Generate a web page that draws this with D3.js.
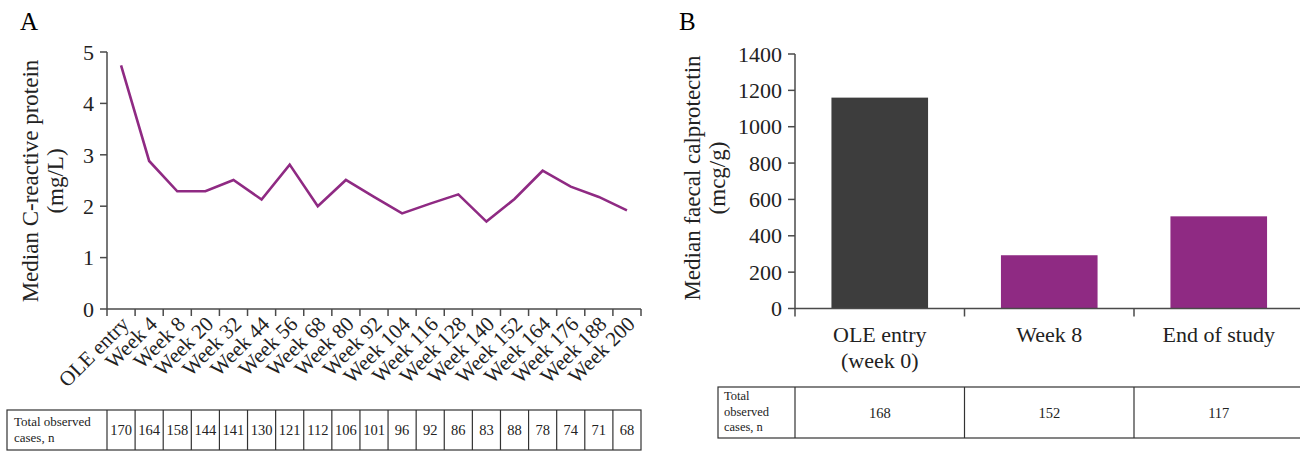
<!DOCTYPE html>
<html>
<head>
<meta charset="utf-8">
<script src="https://cdn.jsdelivr.net/npm/d3@7"></script>
<style>
  body { margin:0; background:#fff; }
  svg text { font-family:"Liberation Serif", "DejaVu Serif", serif; }
</style>
</head>
<body>
<svg width="1300" height="452"></svg>
<script>
// panel A data
var weeks = ["OLE entry","Week 4","Week 8","Week 20","Week 32","Week 44","Week 56","Week 68","Week 80","Week 92",
             "Week 104","Week 116","Week 128","Week 140","Week 152","Week 164","Week 176","Week 188","Week 200"];
var crpMedian = [4.74,2.88,2.29,2.29,2.51,2.13,2.81,2.00,2.51,2.18,1.86,2.05,2.23,1.70,2.14,2.69,2.38,2.18,1.92];
var crpN = [170,164,158,144,141,130,121,112,106,101,96,92,86,83,88,78,74,71,68];
var crpTicks = [0,1,2,3,4,5];

// panel B data
var visits = ["OLE entry|(week 0)","Week 8","End of study"];
var fcMedian = [1160,293,507];
var fcN = [168,152,117];
var fcTicks = [0,200,400,600,800,1000,1200,1400];

var purple = "#8f2a83";
var dark = "#3d3d3d";
var axisCol = "#4a4a4a";
var serif = "Liberation Serif, DejaVu Serif, serif";

var svg = d3.select("svg");

// ---------- panel A ----------
var x = d3.scaleBand().domain(weeks).range([107, 641]).padding(0);
var y = d3.scaleLinear().domain([0,5]).range([309, 52]);

svg.append("text").attr("x",20).attr("y",30).attr("font-family",serif).attr("font-size",25).text("A");

var gA = svg.append("g");
gA.append("line").attr("x1",x.range()[0]).attr("x2",x.range()[1]).attr("y1",y(0)).attr("y2",y(0))
  .attr("stroke",axisCol).attr("stroke-width",1.5);
gA.append("line").attr("x1",107).attr("x2",107).attr("y1",y(0)).attr("y2",y(5))
  .attr("stroke",axisCol).attr("stroke-width",1.5);

gA.selectAll(".yt").data(crpTicks).enter().append("line")
  .attr("x1",100).attr("x2",107).attr("y1",function(d){return y(d);}).attr("y2",function(d){return y(d);})
  .attr("stroke",axisCol).attr("stroke-width",1.5);
gA.selectAll(".yl").data(crpTicks).enter().append("text")
  .attr("x",94).attr("y",function(d){return y(d);}).attr("dy","0.35em")
  .attr("text-anchor","end").attr("font-family",serif).attr("font-size",22).attr("fill","#222")
  .text(function(d){return d;});

var bounds = weeks.map(function(w){return x(w);}).concat([x.range()[1]]);
gA.selectAll(".xt").data(bounds).enter().append("line")
  .attr("x1",function(d){return d;}).attr("x2",function(d){return d;})
  .attr("y1",y(0)).attr("y2",y(0)+7)
  .attr("stroke",axisCol).attr("stroke-width",1.5);

gA.selectAll(".xl").data(weeks).enter().append("text")
  .attr("transform",function(d){return "translate("+(x(d)+x.bandwidth()/2+4)+","+(y(0)+11)+") rotate(-45)";})
  .attr("dy","0.35em").attr("text-anchor","end").attr("font-family",serif).attr("font-size",21).attr("fill","#222")
  .text(function(d){return d;});

var line = d3.line()
  .x(function(d,i){return x(weeks[i])+x.bandwidth()/2;})
  .y(function(d){return y(d);});
gA.append("path").datum(crpMedian).attr("d",line)
  .attr("fill","none").attr("stroke",purple).attr("stroke-width",2.6).attr("stroke-linejoin","miter");

gA.append("text").attr("transform","translate(38,181) rotate(-90)")
  .attr("text-anchor","middle").attr("font-family",serif).attr("font-size",23).attr("fill","#222")
  .text("Median C-reactive protein");
gA.append("text").attr("transform","translate(63,181) rotate(-90)")
  .attr("text-anchor","middle").attr("font-family",serif).attr("font-size",23).attr("fill","#222")
  .text("(mg/L)");

// table A
var tA = svg.append("g");
var tTop = 410, tBot = 450;
tA.append("rect").attr("x",7).attr("y",tTop).attr("width",x.range()[1]-7).attr("height",tBot-tTop)
  .attr("fill","none").attr("stroke","#333").attr("stroke-width",1.2);
tA.selectAll(".cd").data(bounds.slice(0,-1)).enter().append("line")
  .attr("x1",function(d){return d;}).attr("x2",function(d){return d;}).attr("y1",tTop).attr("y2",tBot)
  .attr("stroke","#333").attr("stroke-width",1.2);
tA.append("text").attr("x",14).attr("y",tTop+16).attr("font-family",serif).attr("font-size",13).attr("fill","#222").text("Total observed");
tA.append("text").attr("x",14).attr("y",tTop+32).attr("font-family",serif).attr("font-size",13).attr("fill","#222").text("cases, n");
tA.selectAll(".nv").data(crpN).enter().append("text")
  .attr("x",function(d,i){return x(weeks[i])+x.bandwidth()/2;}).attr("y",tTop+20).attr("dy","0.35em")
  .attr("text-anchor","middle").attr("font-family",serif).attr("font-size",14.5).attr("fill","#222")
  .text(function(d){return d;});

// ---------- panel B ----------
var xb = d3.scaleBand().domain(visits).range([795, 1303.5]).padding(0);
var xbar = d3.scaleBand().domain(visits).range([795, 1303.5]).paddingInner(0.43).paddingOuter(0.215);
var yb = d3.scaleLinear().domain([0,1400]).range([308.5, 54]);

svg.append("text").attr("x",679).attr("y",30).attr("font-family",serif).attr("font-size",25).text("B");

var gB = svg.append("g");
gB.selectAll(".bar").data(fcMedian).enter().append("rect")
  .attr("x",function(d,i){return xbar(visits[i]);}).attr("width",xbar.bandwidth())
  .attr("y",function(d){return yb(d);}).attr("height",function(d){return yb(0)-yb(d);})
  .attr("fill",function(d,i){return i===0 ? dark : purple;});

gB.append("line").attr("x1",795).attr("x2",1303.5).attr("y1",yb(0)).attr("y2",yb(0))
  .attr("stroke",axisCol).attr("stroke-width",1.5);
gB.append("line").attr("x1",795).attr("x2",795).attr("y1",yb(0)).attr("y2",yb(1400))
  .attr("stroke",axisCol).attr("stroke-width",1.5);
gB.selectAll(".yt").data(fcTicks).enter().append("line")
  .attr("x1",788).attr("x2",795).attr("y1",function(d){return yb(d);}).attr("y2",function(d){return yb(d);})
  .attr("stroke",axisCol).attr("stroke-width",1.5);
gB.selectAll(".yl").data(fcTicks).enter().append("text")
  .attr("x",782).attr("y",function(d){return yb(d);}).attr("dy","0.35em")
  .attr("text-anchor","end").attr("font-family",serif).attr("font-size",22).attr("fill","#222")
  .text(function(d){return d;});

var bBounds = visits.map(function(v){return xb(v);});
gB.selectAll(".xt").data(bBounds).enter().append("line")
  .attr("x1",function(d){return d;}).attr("x2",function(d){return d;})
  .attr("y1",yb(0)).attr("y2",yb(0)+8)
  .attr("stroke",axisCol).attr("stroke-width",1.5);

var xlab = gB.selectAll(".xl").data(visits).enter().append("text")
  .attr("text-anchor","middle").attr("font-family",serif).attr("font-size",22).attr("fill","#222");
xlab.selectAll("tspan").data(function(d){
    var cx = xb(d)+xb.bandwidth()/2;
    return d.split("|").map(function(s){return {t:s, cx:cx};});
  }).enter().append("tspan")
  .attr("x",function(d){return d.cx;})
  .attr("y",function(d,i){return 342+i*26;})
  .text(function(d){return d.t;});

gB.append("text").attr("transform","translate(700,178) rotate(-90)")
  .attr("text-anchor","middle").attr("font-family",serif).attr("font-size",23).attr("fill","#222")
  .text("Median faecal calprotectin");
gB.append("text").attr("transform","translate(725,178) rotate(-90)")
  .attr("text-anchor","middle").attr("font-family",serif).attr("font-size",23).attr("fill","#222")
  .text("(mcg/g)");

// table B
var tB = svg.append("g");
var bTop = 387, bBot = 438;
tB.append("rect").attr("x",718).attr("y",bTop).attr("width",1303.5-718).attr("height",bBot-bTop)
  .attr("fill","none").attr("stroke","#333").attr("stroke-width",1.2);
tB.selectAll(".cd").data(bBounds).enter().append("line")
  .attr("x1",function(d){return d;}).attr("x2",function(d){return d;}).attr("y1",bTop).attr("y2",bBot)
  .attr("stroke","#333").attr("stroke-width",1.2);
["Total","observed","cases, n"].forEach(function(s,i){
  tB.append("text").attr("x",724).attr("y",bTop+13+i*15.5).attr("font-family",serif).attr("font-size",12.5).attr("fill","#222").text(s);
});
tB.selectAll(".nv").data(fcN).enter().append("text")
  .attr("x",function(d,i){return xb(visits[i])+xb.bandwidth()/2;}).attr("y",(bTop+bBot)/2).attr("dy","0.35em")
  .attr("text-anchor","middle").attr("font-family",serif).attr("font-size",14.5).attr("fill","#222")
  .text(function(d){return d;});
</script>
</body>
</html>
